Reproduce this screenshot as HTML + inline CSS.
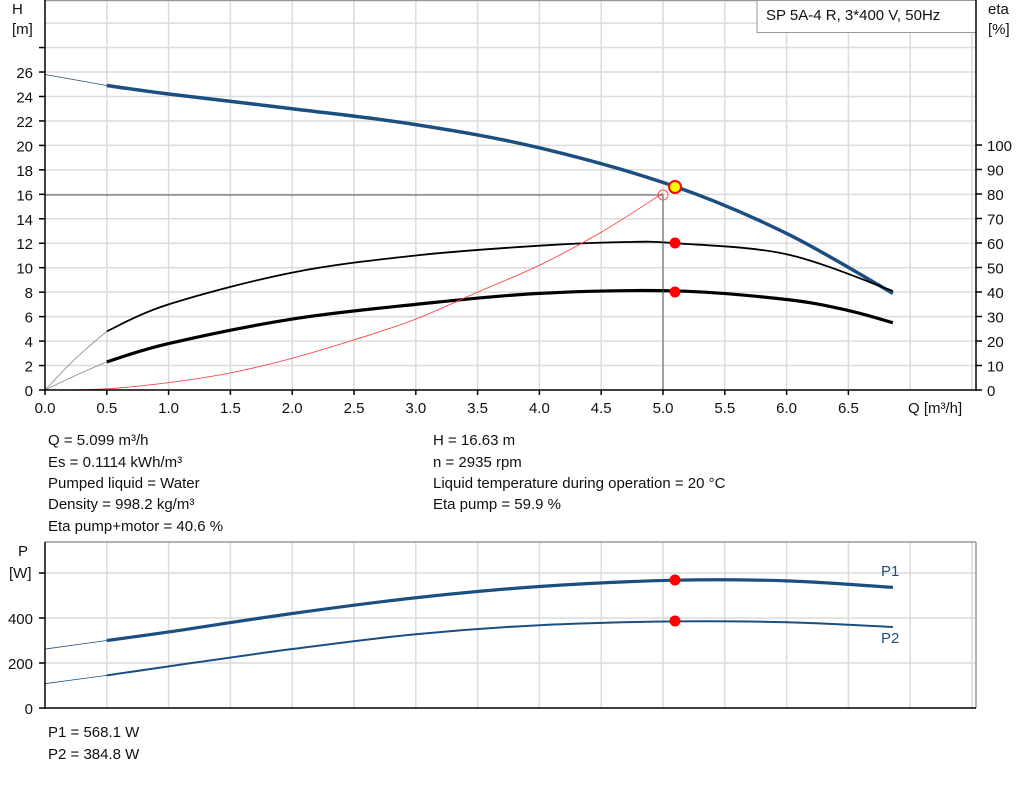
<!DOCTYPE html>
<html><head><meta charset="utf-8"><style>
body{margin:0;background:#fff;width:1024px;height:781px;overflow:hidden}
svg text{font-family:"Liberation Sans",sans-serif;font-size:15px;fill:#111}
</style></head><body>
<svg id="s" width="1024" height="781" xmlns="http://www.w3.org/2000/svg">
<g id="grid" stroke="#dcdcdc" stroke-width="1.5"></g>
<rect x="757" y="0.5" width="219" height="32" fill="#fff" stroke="#999" stroke-width="1"/>
<text x="766" y="20">SP 5A-4 R, 3*400 V, 50Hz</text>
<g id="curves" fill="none"></g>
<g id="axes" stroke="#000" stroke-width="1.5"></g>
<g id="lbl"></g>
<text x="12" y="14">H</text><text x="12" y="34">[m]</text>
<text x="988" y="14">eta</text><text x="988" y="34">[%]</text>
<text x="908" y="413">Q [m³/h]</text>
<text x="48" y="445">Q = 5.099 m³/h</text>
<text x="48" y="467">Es = 0.1114 kWh/m³</text>
<text x="48" y="488">Pumped liquid = Water</text>
<text x="48" y="509">Density = 998.2 kg/m³</text>
<text x="48" y="531">Eta pump+motor = 40.6 %</text>
<text x="433" y="445">H = 16.63 m</text>
<text x="433" y="467">n = 2935 rpm</text>
<text x="433" y="488">Liquid temperature during operation = 20 °C</text>
<text x="433" y="509">Eta pump = 59.9 %</text>
<text x="18" y="556">P</text><text x="9" y="578">[W]</text>
<text x="881" y="576" style="fill:#1a4f80">P1</text>
<text x="881" y="643" style="fill:#1a4f80">P2</text>
<text x="48" y="737">P1 = 568.1 W</text>
<text x="48" y="759">P2 = 384.8 W</text>
</svg>
<script>
var NS="http://www.w3.org/2000/svg";
function el(p,t,a,txt){var e=document.createElementNS(NS,t);for(var k in a)e.setAttribute(k,a[k]);if(txt!==undefined)e.textContent=txt;document.getElementById(p).appendChild(e);return e;}
var X=function(q){return 45+123.6*q};
var Y=function(h){return 390-12.23*h};
var YP=function(p){return 708-0.225*p};
for(var q=0.5;q<7.6;q+=0.5){el("grid","line",{x1:X(q),y1:0,x2:X(q),y2:390});el("grid","line",{x1:X(q),y1:542,x2:X(q),y2:708});}
for(var h=2;h<=30;h+=2){el("grid","line",{x1:45,y1:Y(h),x2:976,y2:Y(h)});}
for(var p=200;p<=600;p+=200){el("grid","line",{x1:45,y1:YP(p),x2:976,y2:YP(p)});}
el("axes","line",{x1:45,y1:0,x2:45,y2:391});el("axes","line",{x1:44,y1:390,x2:977,y2:390});el("axes","line",{x1:976,y1:0,x2:976,y2:391});
el("axes","line",{x1:45,y1:542,x2:45,y2:709});el("axes","line",{x1:44,y1:708,x2:976,y2:708});
el("grid","line",{x1:45,y1:542,x2:976,y2:542,stroke:"#999"});el("grid","line",{x1:976,y1:542,x2:976,y2:708,stroke:"#999"});
el("grid","line",{x1:45,y1:0.5,x2:976,y2:0.5,stroke:"#999"});
for(var q=0;q<=6.5;q+=0.5){el("axes","line",{x1:X(q),y1:390,x2:X(q),y2:395});el("lbl","text",{x:X(q),y:413,"text-anchor":"middle"},q.toFixed(1));}
for(var h=0;h<=28;h+=2){el("axes","line",{x1:39,y1:Y(h),x2:45,y2:Y(h)});if(h<=26)el("lbl","text",{x:33,y:Y(h)+6,"text-anchor":"end"},h);}
for(var e=0;e<=100;e+=10){var y=390-2.45*e;el("axes","line",{x1:976,y1:y,x2:982,y2:y});el("lbl","text",{x:987,y:y+6},e);}
for(var p=0;p<=600;p+=200){el("axes","line",{x1:39,y1:YP(p),x2:45,y2:YP(p)});if(p<600)el("lbl","text",{x:33,y:YP(p)+6,"text-anchor":"end"},p);}
function path(pts,yf){var P=pts.map(function(a){return[X(a[0]),yf(a[1])]});var d="M"+P[0][0]+","+P[0][1];
for(var i=0;i<P.length-1;i++){var p0=P[i-1]||P[i],p1=P[i],p2=P[i+1],p3=P[i+2]||P[i+1];
d+=" C"+(p1[0]+(p2[0]-p0[0])/6)+","+(p1[1]+(p2[1]-p0[1])/6)+" "+(p2[0]-(p3[0]-p1[0])/6)+","+(p2[1]-(p3[1]-p1[1])/6)+" "+p2[0]+","+p2[1];}return d;}
function cv(pts,yf,st,w){el("curves","path",{d:path(pts,yf),stroke:st,"stroke-width":w});}
var B="#1a4f80";
cv([[0,25.8],[0.5,24.9]],Y,B,0.8);
cv([[0.5,24.9],[1,24.2],[2,23],[3,21.7],[4,19.8],[5.1,16.63],[6,12.8],[6.86,7.9]],Y,B,3.5);
cv([[0,0],[0.25,2.6],[0.5,4.8]],Y,"#888",0.8);
cv([[0.5,4.8],[1,7],[2,9.6],[3,11],[4,11.8],[4.7,12.1],[5.1,12],[6,11.1],[6.86,8.1]],Y,"#000",1.8);
cv([[0,0],[0.25,1.2],[0.5,2.3]],Y,"#888",0.8);
cv([[0.5,2.3],[1,3.8],[2,5.8],[3,7.0],[4,7.9],[5.1,8.1],[6,7.4],[6.5,6.5],[6.86,5.5]],Y,"#000",3.2);
cv([[0,0],[0.5,0.1],[1,0.6],[1.5,1.4],[2,2.6],[2.5,4.1],[3,5.8],[3.5,8],[4,10.2],[4.5,12.9],[5,16.1]],Y,"#f33",0.8);
el("curves","polyline",{points:"45,195 663,195 663,390",stroke:"#555","stroke-width":1});
el("curves","circle",{cx:663,cy:195,r:5,stroke:"#f55","stroke-width":1});
el("curves","circle",{cx:675,cy:187,r:6,fill:"#ff0",stroke:"#f00","stroke-width":2});
el("curves","circle",{cx:675,cy:243,r:5.5,fill:"#f00"});
el("curves","circle",{cx:675,cy:292,r:5.5,fill:"#f00"});
cv([[0,262],[0.5,300]],YP,B,0.8);
cv([[0.5,300],[1,338],[2,420],[3,490],[4,540],[5.1,568],[6,565],[6.86,536]],YP,B,3.2);
cv([[0,108],[0.5,145]],YP,B,0.8);
cv([[0.5,145],[1,185],[2,262],[3,328],[4,368],[5.1,385],[6,381],[6.86,360]],YP,B,2);
el("curves","circle",{cx:675,cy:580,r:5.5,fill:"#f00"});
el("curves","circle",{cx:675,cy:621,r:5.5,fill:"#f00"});
</script>
</body></html>
